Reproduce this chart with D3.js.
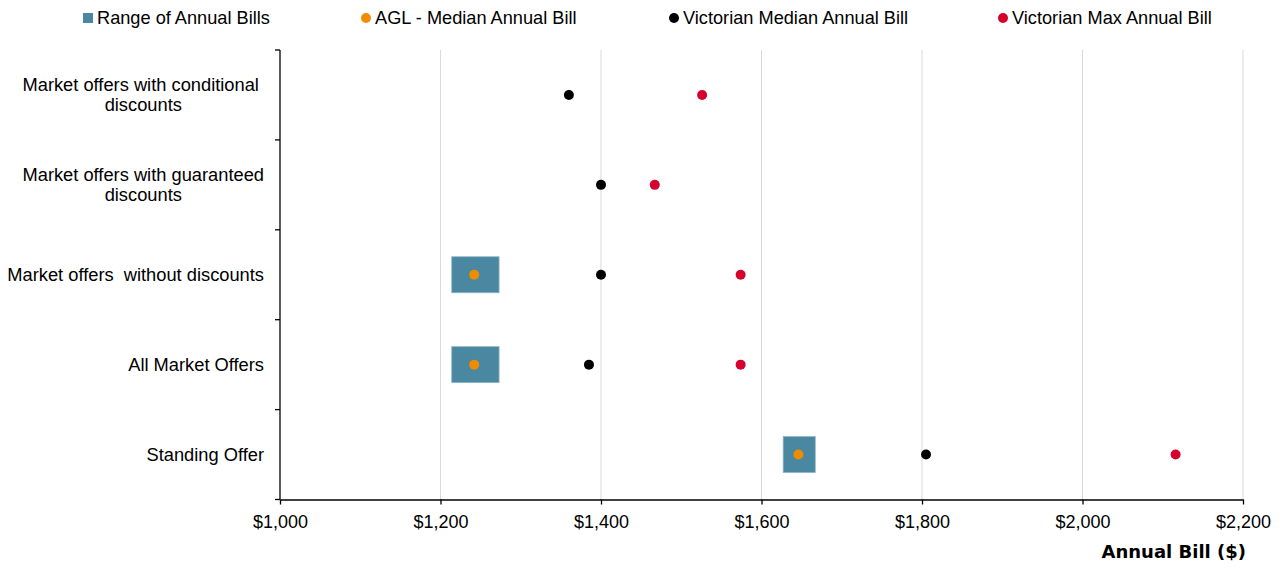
<!DOCTYPE html>
<html><head><meta charset="utf-8">
<script src="https://cdn.jsdelivr.net/npm/d3@7"></script>
<style>body{margin:0;background:#fff}svg{display:block}text{white-space:pre}</style>
</head><body><svg id="c" width="1284" height="570"></svg>
<script>
const categories = [
  ["Market offers with conditional ","discounts"],
  ["Market offers with guaranteed","discounts"],
  ["Market offers  without discounts"],
  ["All Market Offers"],
  ["Standing Offer"]
];
const rangeLow  = [null, null, 1214, 1214, 1627];
const rangeHigh = [null, null, 1273, 1273, 1667];
const aglMedian = [null, null, 1242, 1242, 1646];
const vicMedian = [1360, 1400, 1400, 1385, 1805];
const vicMax    = [1526, 1467, 1574, 1574, 2116];
const xTicks = [1000,1200,1400,1600,1800,2000,2200];
const legendLabels = ["Range of Annual Bills","AGL - Median Annual Bill","Victorian Median Annual Bill","Victorian Max Annual Bill"];

const colors = {range:"#4a87a0", agl:"#f08c00", med:"#000000", max:"#d6002f"};
const font = "'Liberation Sans', Arial, sans-serif";
const svg = d3.select("#c");
const L=280, R=1243, T=50, B=499.5;
const x = d3.scaleLinear().domain([1000,2200]).range([L,R]);
const y = d3.scaleBand().domain(d3.range(categories.length)).range([T,B]);

// gridlines
svg.append("g").selectAll("line").data(xTicks.slice(1)).join("line")
  .attr("x1",d=>x(d)).attr("x2",d=>x(d)).attr("y1",T).attr("y2",B)
  .attr("stroke","#d9d9d9").attr("stroke-width",1);

// x axis
const xa = svg.append("g").attr("transform",`translate(0,${B})`)
  .call(d3.axisBottom(x).tickValues(xTicks).tickSize(5).tickSizeOuter(0).tickFormat(d=>"$"+d3.format(",")(d)));
xa.select(".domain").attr("stroke","#000").attr("stroke-width",1.3);
xa.selectAll(".tick line").attr("stroke","#000").attr("stroke-width",1.3);
xa.selectAll("text").attr("font-family",font).attr("font-size",18).attr("fill","#000").attr("y",22).attr("dy","0.35em");

// y axis
const ya = svg.append("g").attr("transform",`translate(${L},0)`);
ya.append("line").attr("x1",0).attr("x2",0).attr("y1",T).attr("y2",B).attr("stroke","#000").attr("stroke-width",1.3);
const yt = d3.range(categories.length+1).map(i=> i<categories.length ? y(i) : B);
ya.selectAll(".yt").data(yt).join("line").attr("class","yt")
  .attr("x1",-5).attr("x2",0).attr("y1",d=>d).attr("y2",d=>d).attr("stroke","#000").attr("stroke-width",1.3);

// category labels
const labelRight = 264;
categories.forEach((lines,i)=>{
  const g = svg.append("g");
  const cy = y(i)+y.bandwidth()/2;
  const lh = 20;
  const texts = lines.map((t,j)=> g.append("text").text(t)
    .attr("font-family",font).attr("font-size",18.3).attr("fill","#000")
    .attr("y", cy + (j - (lines.length-1)/2)*lh).attr("dy","0.35em"));
  const widths = texts.map(t=>t.node().getComputedTextLength());
  const mw = d3.max(widths);
  const cx = labelRight - mw/2;
  texts.forEach(t=>t.attr("x",cx).attr("text-anchor","middle"));
});

// range boxes
const boxH = 36;
svg.append("g").selectAll("rect").data(d3.range(categories.length).filter(i=>rangeLow[i]!=null)).join("rect")
  .attr("x",i=>x(rangeLow[i])).attr("width",i=>x(rangeHigh[i])-x(rangeLow[i]))
  .attr("y",i=>y(i)+y.bandwidth()/2-boxH/2).attr("height",boxH)
  .attr("fill",colors.range).attr("stroke","#8fb6c6").attr("stroke-width",0.8);

function dots(arr,col){
  svg.append("g").selectAll("circle").data(d3.range(categories.length).filter(i=>arr[i]!=null)).join("circle")
    .attr("cx",i=>x(arr[i])).attr("cy",i=>y(i)+y.bandwidth()/2).attr("r",5).attr("fill",col);
}
dots(aglMedian,colors.agl);
dots(vicMedian,colors.med);
dots(vicMax,colors.max);

// legend
const lg = svg.append("g");
const legX = [83, 361, 669, 998];
lg.append("rect").attr("x",legX[0]).attr("y",13).attr("width",10).attr("height",10).attr("fill",colors.range);
[[colors.agl,1],[colors.med,2],[colors.max,3]].forEach(([c,i])=>{
  lg.append("circle").attr("cx",legX[i]+5).attr("cy",18).attr("r",5).attr("fill",c);
});
legendLabels.forEach((t,i)=>{
  lg.append("text").text(t).attr("x",legX[i]+14).attr("y",18).attr("dy","0.35em")
    .attr("font-family",font).attr("font-size",18.2).attr("fill","#000");
});

// x axis title
svg.append("text").text("Annual Bill ($)").attr("x",1246).attr("y",558).attr("text-anchor","end")
  .attr("font-family","'DejaVu Sans', Verdana, sans-serif").attr("font-weight","bold").attr("font-size",18).attr("fill","#000");
</script></body></html>
